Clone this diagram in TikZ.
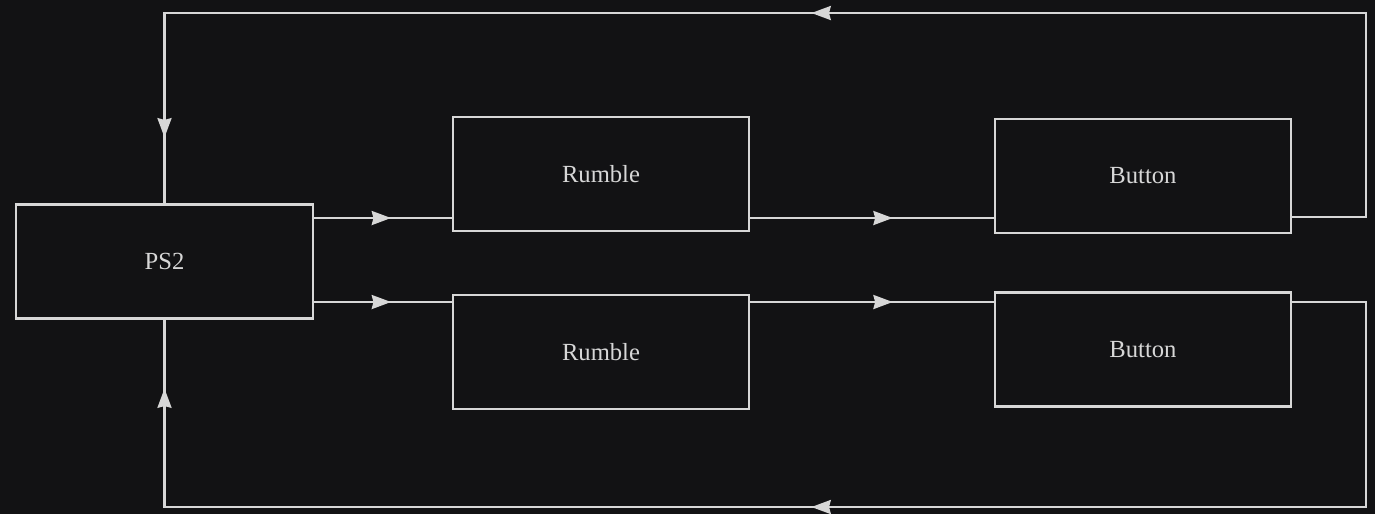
\documentclass[tikz,border=0pt]{standalone}
\usepackage{fontspec}
\setmainfont{Liberation Serif}
\usetikzlibrary{arrows.meta,decorations.markings}
\definecolor{bgcol}{RGB}{18,18,20}
\definecolor{wirecol}{RGB}{215,215,215}

\begin{document}
\begin{tikzpicture}
    [x=0.01cm, y=-0.01cm,
    block/.style={draw=wirecol, line width=0.6pt, text=wirecol, minimum width=2.96cm, minimum height=1.14cm, inner sep=0pt, font=\fontsize{7}{8}\selectfont},
    wire/.style={draw=wirecol, line width=0.6pt},
    tipat/.style={postaction={decorate}, decoration={markings,
        mark=at position #1 with {\arrow{Stealth[length=5.5pt,width=4pt,inset=0.5pt]}}}},
    tipsat/.style 2 args={postaction={decorate}, decoration={markings,
        mark=at position #1 with {\arrow{Stealth[length=5.5pt,width=4pt,inset=0.5pt]}},
        mark=at position #2 with {\arrow{Stealth[length=5.5pt,width=4pt,inset=0.5pt]}}}}]
    \fill[bgcol] (0,0) rectangle (1375,514);
    \node[block] (ps2) at (164.5,261.5) {PS2};
    \node[block] (rum1) at (601,174) {Rumble};
    \node[block] (btn1) at (1143,176) {Button};
    \node[block] (rum2) at (601,352) {Rumble};
    \node[block] (btn2) at (1143,349.5) {Button};
    \coordinate (tr) at (1366,13);
    \coordinate (tl) at (ps2.north |- 0,13);
    \coordinate (br) at (1366,507);
    \coordinate (bl) at (ps2.south |- 0,507);
    % forward wires
    \draw[wire, tipat=0.56] (ps2.east |- 0,218) -- (rum1.west |- 0,218);
    \draw[wire, tipat=0.585] (rum1.east |- 0,218) -- (btn1.west |- 0,218);
    \draw[wire, tipat=0.56] (ps2.east |- 0,302) -- (rum2.west |- 0,302);
    \draw[wire, tipat=0.585] (rum2.east |- 0,302) -- (btn2.west |- 0,302);
    % back to PS2
    \draw[wire, tipsat={0.4985}{0.9605}] (btn1.east |- 0,217) -| (tr) -- (tl) -- (ps2.north);
    \draw[wire, tipsat={0.4997}{0.9587}] (btn2.east |- 0,302) -| (br) -- (bl) -- (ps2.south);
\end{tikzpicture}
\end{document}
